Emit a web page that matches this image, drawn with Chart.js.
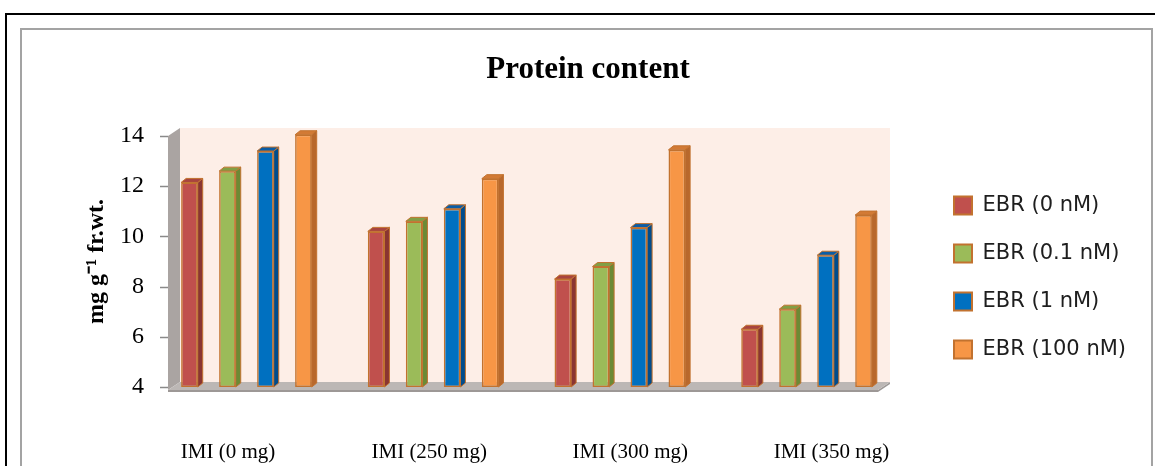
<!DOCTYPE html>
<html>
<head>
<meta charset="utf-8">
<script src="https://cdn.jsdelivr.net/npm/chart.js@4.4.1/dist/chart.umd.min.js"></script>
<style>
  html, body { margin: 0; padding: 0; background: #fff; overflow: hidden; width: 1155px; height: 466px; }
  #frame { position: absolute; left: 5px; top: 13px; width: 1200px; height: 500px; border-top: 2px solid #000; border-left: 2px solid #000; }
  #panel { position: absolute; left: 20px; top: 28px; width: 1129px; height: 500px; border: 2px solid #a3a3a3; }
  #chart { position: absolute; left: 0; top: 0; }
</style>
</head>
<body>
<div id="frame"></div>
<div id="panel"></div>
<canvas id="chart" width="1155" height="466"></canvas>
<script>
// Protein content (mg g-1 fr.wt.) under imidacloprid doses and EBR treatments
const chartTitle = 'Protein content';
const yAxisTitle = 'mg g\u207B\u00B9 fr.wt.';
const categories = ['IMI (0 mg)', 'IMI (250 mg)', 'IMI (300 mg)', 'IMI (350 mg)'];
const seriesNames = ['EBR (0 nM)', 'EBR (0.1 nM)', 'EBR (1 nM)', 'EBR (100 nM)'];
const ebr0 = [12.15, 10.2, 8.3, 6.3];
const ebr01 = [12.6, 10.6, 8.8, 7.1];
const ebr1 = [13.4, 11.1, 10.35, 9.25];
const ebr100 = [14.05, 12.3, 13.45, 10.85];
const yTicks = [4, 6, 8, 10, 12, 14];

const seriesValues = [ebr0, ebr01, ebr1, ebr100];
const frontColors = ['#c0504d', '#9bbb59', '#0070c0', '#f79646'];
const sideColors = ['#8a3532', '#6b8a35', '#004c8c', '#b8682c'];
const topColors = ['#a8443f', '#819f45', '#0a5da6', '#d27a35'];
const edgeColor = '#c2722f';

const LEGEND_WIDTH = 228;
const WALL_DX = 12, WALL_DY = 8;   // depth of walls and floor
const BAR_DX = 5, BAR_DY = 4;      // depth of each column

// Keep the legend column at a fixed width so the plot area ends where the legend starts
const legendFit = {
  id: 'legendFit',
  beforeLayout(chart) {
    const lg = chart.legend;
    if (lg && !lg.$fixedFit) {
      const fit = lg.fit;
      lg.fit = function () { fit.call(this); this.width = LEGEND_WIDTH; };
      lg.$fixedFit = true;
    }
  }
};

// Back wall, side wall, floor and the column side/top faces
const scene3d = {
  id: 'scene3d',
  beforeDatasetsDraw(chart) {
    const { ctx, chartArea: a, scales: { y } } = chart;
    const top = y.top, base = y.bottom;
    const L = a.left, R = a.right - 37;
    ctx.save();
    // back wall
    ctx.fillStyle = '#fdeee7';
    ctx.fillRect(L + WALL_DX, top - WALL_DY, R - L - WALL_DX, (base - 5) - (top - WALL_DY));
    // side wall
    ctx.fillStyle = '#aaa4a2';
    ctx.beginPath();
    ctx.moveTo(L, top);
    ctx.lineTo(L + WALL_DX, top - WALL_DY);
    ctx.lineTo(L + WALL_DX, base - 5);
    ctx.lineTo(L, base + 3);
    ctx.closePath();
    ctx.fill();
    // floor: front edge strip, then top surface
    ctx.fillStyle = '#9d9896';
    ctx.beginPath();
    ctx.moveTo(L, base + 3);
    ctx.lineTo(R - WALL_DX, base + 3);
    ctx.lineTo(R, base - 5);
    ctx.lineTo(R, base - 3);
    ctx.lineTo(R - WALL_DX, base + 5);
    ctx.lineTo(L, base + 5);
    ctx.closePath();
    ctx.fill();
    ctx.fillStyle = '#bcb7b5';
    ctx.beginPath();
    ctx.moveTo(L, base + 3);
    ctx.lineTo(L + WALL_DX, base - 5);
    ctx.lineTo(R, base - 5);
    ctx.lineTo(R - WALL_DX, base + 3);
    ctx.closePath();
    ctx.fill();
    // tick marks on the value axis
    ctx.strokeStyle = '#8a8a8a';
    ctx.lineWidth = 1.5;
    y.ticks.forEach(t => {
      const py = Math.round(y.getPixelForValue(t.value)) + 0.5;
      ctx.beginPath();
      ctx.moveTo(L - 8, py);
      ctx.lineTo(L, py);
      ctx.stroke();
    });
    ctx.restore();
  },
  afterDatasetsDraw(chart) {
    const ctx = chart.ctx;
    ctx.save();
    ctx.lineWidth = 1;
    ctx.strokeStyle = edgeColor;
    chart.data.datasets.forEach((ds, k) => {
      const meta = chart.getDatasetMeta(k);
      meta.data.forEach(el => {
        const l = el.x - el.width / 2, r = el.x + el.width / 2;
        ctx.fillStyle = sideColors[k];
        ctx.beginPath();
        ctx.moveTo(r, el.y);
        ctx.lineTo(r + BAR_DX, el.y - BAR_DY);
        ctx.lineTo(r + BAR_DX, el.base - BAR_DY);
        ctx.lineTo(r, el.base);
        ctx.closePath();
        ctx.fill();
        ctx.stroke();
        ctx.fillStyle = topColors[k];
        ctx.beginPath();
        ctx.moveTo(l, el.y);
        ctx.lineTo(l + BAR_DX, el.y - BAR_DY);
        ctx.lineTo(r + BAR_DX, el.y - BAR_DY);
        ctx.lineTo(r, el.y);
        ctx.closePath();
        ctx.fill();
        ctx.stroke();
      });
    });
    ctx.restore();
  }
};

new Chart(document.getElementById('chart'), {
  type: 'bar',
  data: {
    datasets: seriesNames.map((name, k) => ({
      label: name,
      data: seriesValues[k].map((v, i) => ({ x: i, y: v })),
      base: yTicks[0],
      backgroundColor: frontColors[k],
      borderColor: edgeColor,
      borderWidth: 1.6,
      borderSkipped: false,
      categoryPercentage: 0.814,
      barPercentage: 0.437,
      clip: false,
      xAxisID: 'x',
      yAxisID: 'y'
    }))
  },
  options: {
    responsive: false,
    animation: false,
    events: [],
    layout: { padding: { left: 21, right: 0, top: 32, bottom: 0 } },
    plugins: {
      title: {
        display: true,
        text: chartTitle,
        color: '#000',
        font: { family: 'Liberation Serif', size: 31, weight: 'bold' },
        padding: { top: 19.4, bottom: 47.4 }
      },
      legend: {
        position: 'right',
        align: 'end',
        fullSize: false,
        labels: {
          color: '#1e1e1e',
          font: { family: 'DejaVu Sans', size: 21 },
          boxWidth: 18,
          boxHeight: 18,
          padding: 27,
          generateLabels(chart) {
            const items = Chart.defaults.plugins.legend.labels.generateLabels(chart);
            items.forEach(it => { it.lineWidth = 2; });
            return items;
          }
        }
      },
      tooltip: { enabled: false }
    },
    scales: {
      x: {
        type: 'linear',
        display: false,
        offset: false,
        min: -0.42,
        max: 3.6453,
        afterBuildTicks: s => { s.ticks = categories.map((_, i) => ({ value: i })); }
      },
      xl: {
        type: 'linear',
        position: 'bottom',
        offset: false,
        min: -0.2989,
        max: 3.4753,
        grid: { display: false, drawTicks: false },
        border: { display: false },
        afterBuildTicks: s => { s.ticks = categories.map((_, i) => ({ value: i })); },
        afterFit: s => { s.height = 79; },
        ticks: {
          autoSkip: false,
          maxRotation: 0,
          padding: 53,
          color: '#000',
          font: { family: 'Liberation Serif', size: 21 },
          callback: (v, i) => categories[i]
        }
      },
      y: {
        type: 'linear',
        min: 4,
        max: 14,
        grid: { display: false, drawTicks: false },
        border: { display: false },
        afterBuildTicks: s => { s.ticks = yTicks.map(v => ({ value: v })); },
        afterFit: s => { s.width = 147; },
        ticks: {
          padding: 24,
          color: '#000',
          font: { family: 'Liberation Serif', size: 24 }
        },
        title: {
          display: true,
          text: yAxisTitle,
          color: '#000',
          font: { family: 'Liberation Serif', size: 24, weight: 'bold' },
          padding: { top: 61.6, bottom: 0 }
        }
      }
    }
  },
  plugins: [legendFit, scene3d]
});
</script>
</body>
</html>
